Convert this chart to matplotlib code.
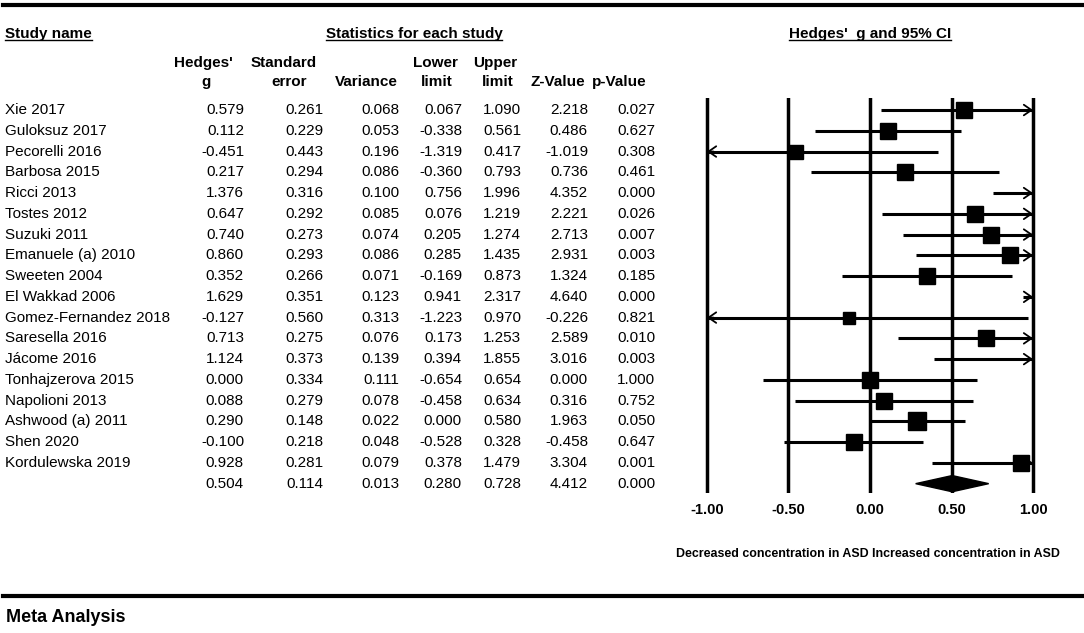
import numpy as np
import matplotlib
matplotlib.use('Agg')
import matplotlib.pyplot as plt
from matplotlib.lines import Line2D
from matplotlib.transforms import blended_transform_factory

plt.rcParams['font.family'] = ['Liberation Sans', 'DejaVu Sans']

studies = ['Xie 2017', 'Guloksuz 2017', 'Pecorelli 2016', 'Barbosa 2015', 'Ricci 2013',
           'Tostes 2012', 'Suzuki 2011', 'Emanuele (a) 2010', 'Sweeten 2004', 'El Wakkad 2006',
           'Gomez-Fernandez 2018', 'Saresella 2016', 'Jácome 2016', 'Tonhajzerova 2015',
           'Napolioni 2013', 'Ashwood (a) 2011', 'Shen 2020', 'Kordulewska 2019']
hedges_g = [0.579, 0.112, -0.451, 0.217, 1.376, 0.647, 0.740, 0.860, 0.352, 1.629,
            -0.127, 0.713, 1.124, 0.000, 0.088, 0.290, -0.100, 0.928]
std_err = [0.261, 0.229, 0.443, 0.294, 0.316, 0.292, 0.273, 0.293, 0.266, 0.351,
           0.560, 0.275, 0.373, 0.334, 0.279, 0.148, 0.218, 0.281]
variance = [0.068, 0.053, 0.196, 0.086, 0.100, 0.085, 0.074, 0.086, 0.071, 0.123,
            0.313, 0.076, 0.139, 0.111, 0.078, 0.022, 0.048, 0.079]
lower = [0.067, -0.338, -1.319, -0.360, 0.756, 0.076, 0.205, 0.285, -0.169, 0.941,
         -1.223, 0.173, 0.394, -0.654, -0.458, 0.000, -0.528, 0.378]
upper = [1.090, 0.561, 0.417, 0.793, 1.996, 1.219, 1.274, 1.435, 0.873, 2.317,
         0.970, 1.253, 1.855, 0.654, 0.634, 0.580, 0.328, 1.479]
z_value = [2.218, 0.486, -1.019, 0.736, 4.352, 2.221, 2.713, 2.931, 1.324, 4.640,
           -0.226, 2.589, 3.016, 0.000, 0.316, 1.963, -0.458, 3.304]
p_value = [0.027, 0.627, 0.308, 0.461, 0.000, 0.026, 0.007, 0.003, 0.185, 0.000,
           0.821, 0.010, 0.003, 1.000, 0.752, 0.050, 0.647, 0.001]

summary = [0.504, 0.114, 0.013, 0.280, 0.728, 4.412, 0.000]  # g, se, var, lo, hi, z, p

ticks = [-1.0, -0.5, 0.0, 0.5, 1.0]
tick_labels = ['-1.00', '-0.50', '0.00', '0.50', '1.00']

W, H = 1084, 633
fig = plt.figure(figsize=(W / 100, H / 100), dpi=100)


def fx(x):
    return x / W


def fy(y):
    return 1 - y / H


# forest plot axes: -1 at x=707px, 1 at x=1033px
ax = fig.add_axes([fx(703.7), fy(493), (1036.3 - 703.7) / W, (493 - 98) / H])
n = len(studies)
ax.set_xlim(-1.02, 1.02)
ax.set_ylim(n + 0.45, -0.58)
for s in ax.spines.values():
    s.set_visible(False)
ax.set_yticks([])
ax.set_xticks(ticks)
ax.set_xticklabels(tick_labels, fontweight='bold', fontsize=10.5)
ax.tick_params(axis='x', length=0, pad=7)

for t in ticks:
    ax.axvline(t, color='black', lw=2.5, zorder=1)

# random effects weights for the box sizes: tau^2 chosen so the weights
# add up to 1 / summary variance
v = np.array(variance)
target = 1 / summary[1] ** 2
tau2 = 0.0
for _ in range(60):
    f = np.sum(1 / (v + tau2)) - target
    df = -np.sum(1 / (v + tau2) ** 2)
    tau2 = max(0.0, tau2 - f / df)
w_re = 1 / (v + tau2)
box = 12.4 * (w_re / w_re.max()) ** 0.3

arrow = dict(arrowstyle='->,head_length=0.55,head_width=0.38', lw=1.3, color='black',
             shrinkA=0, shrinkB=0)
for i in range(n):
    lo = max(lower[i], -1.0)
    hi = min(upper[i], 1.0)
    ax.plot([lo, hi], [i, i], color='black', lw=2.2, solid_capstyle='butt', zorder=2)
    if upper[i] > 1.0:
        ax.annotate('', xy=(1.0, i), xytext=(max(lo, 0.96), i), arrowprops=arrow)
    if lower[i] < -1.0:
        ax.annotate('', xy=(-1.0, i), xytext=(-0.96, i), arrowprops=arrow)
    if -1.0 <= hedges_g[i] <= 1.0:
        ax.plot(hedges_g[i], i, marker='s', color='black', markersize=box[i], zorder=3)

# summary diamond
dh = 0.39
ax.fill([summary[3], summary[0], summary[4], summary[0]],
        [n, n - dh, n, n + dh], color='black', zorder=3)

# axis captions
tr = blended_transform_factory(ax.transData, fig.transFigure)
ax.text(-0.01, fy(554), 'Decreased concentration in ASD', transform=tr, ha='right',
        va='center', fontsize=8.9, fontweight='bold')
ax.text(0.012, fy(554), 'Increased concentration in ASD', transform=tr, ha='left',
        va='center', fontsize=8.9, fontweight='bold')

# table
tt = blended_transform_factory(fig.transFigure, ax.transData)
col_right = [244, 323, 399, 462, 521, 588, 655]
columns = [hedges_g, std_err, variance, lower, upper, z_value, p_value]
for i in range(n):
    fig.text(fx(5), i, studies[i], transform=tt, ha='left', va='center', fontsize=11)
    for c, xr in zip(columns, col_right):
        fig.text(fx(xr), i, f'{c[i]:.3f}', transform=tt, ha='right', va='center', fontsize=11)
for val, xr in zip(summary, col_right):
    fig.text(fx(xr), n, f'{val:.3f}', transform=tt, ha='right', va='center', fontsize=11)

head1 = [("Hedges'", 203), ('Standard', 284), ('Lower', 435), ('Upper', 495)]
head2 = [('g', 206), ('error', 289), ('Variance', 366), ('limit', 437), ('limit', 498),
         ('Z-Value', 558), ('p-Value', 619)]
for txt, xc in head1:
    fig.text(fx(xc), fy(63), txt, ha='center', va='center', fontsize=11, fontweight='bold')
for txt, xc in head2:
    fig.text(fx(xc), fy(82), txt, ha='center', va='center', fontsize=11, fontweight='bold')

# underlined section titles
renderer = fig.canvas.get_renderer()
titles = [('Study name', 5, 'left'), ('Statistics for each study', 414, 'center'),
          ("Hedges'  g and 95% CI", 870, 'center')]
for txt, xp, ha in titles:
    t = fig.text(fx(xp), fy(34), txt, ha=ha, va='center', fontsize=11, fontweight='bold')
    bb = t.get_window_extent(renderer)
    fig.add_artist(Line2D([bb.x0 / W, bb.x1 / W], [(bb.y0 + 1) / H, (bb.y0 + 1) / H],
                          color='black', lw=1.0, transform=fig.transFigure))

# heavy rules and caption
fig.add_artist(Line2D([fx(3), fx(W)], [fy(5), fy(5)], color='black', lw=3,
                      transform=fig.transFigure))
fig.add_artist(Line2D([fx(3), fx(W)], [fy(596), fy(596)], color='black', lw=3,
                      transform=fig.transFigure))
fig.text(fx(6), fy(618), 'Meta Analysis', ha='left', va='center', fontsize=13,
         fontweight='bold')

fig.savefig('out.png', dpi=100)
